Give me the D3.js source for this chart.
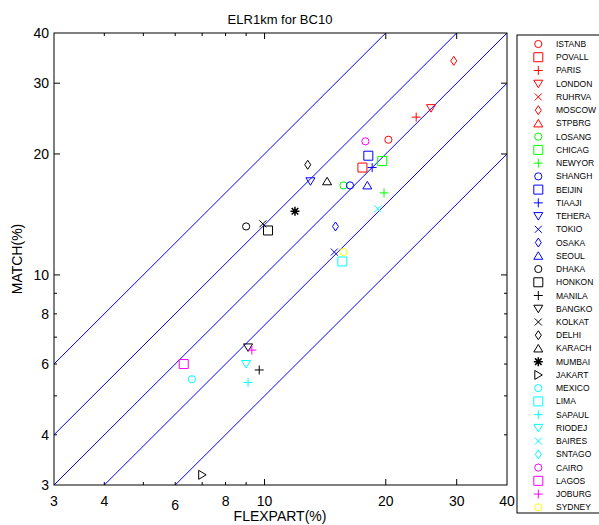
<!DOCTYPE html>
<html><head><meta charset="utf-8">
<script src="https://cdn.jsdelivr.net/npm/d3@7"></script>
<style>body{margin:0;background:#fff;} svg{display:block;} text{font-family:"Liberation Sans",Arial,sans-serif;}</style>
</head><body><svg id="c" width="599" height="525"></svg>
<script>
const cities = ["ISTANB","POVALL","PARIS","LONDON","RUHRVA","MOSCOW","STPBRG","LOSANG","CHICAG","NEWYOR","SHANGH","BEIJIN","TIAAJI","TEHERA","TOKIO","OSAKA","SEOUL","DHAKA","HONKON","MANILA","BANGKO","KOLKAT","DELHI","KARACH","MUMBAI","JAKART","MEXICO","LIMA","SAPAUL","RIODEJ","BAIRES","SNTAGO","CAIRO","LAGOS","JOBURG","SYDNEY"];
const colors = ["#ff0000","#ff0000","#ff0000","#ff0000","#ff0000","#ff0000","#ff0000","#00ff00","#00ff00","#00ff00","#0000ff","#0000ff","#0000ff","#0000ff","#0000ff","#0000ff","#0000ff","#000000","#000000","#000000","#000000","#000000","#000000","#000000","#000000","#000000","#00ffff","#00ffff","#00ffff","#00ffff","#00ffff","#00ffff","#ff00ff","#ff00ff","#ff00ff","#ffff00"];
const shapes = ["circle","square","plus","tridown","cross","diamond","triup","circle","square","plus","circle","square","plus","tridown","cross","diamond","triup","circle","square","plus","tridown","cross","diamond","triup","star","triright","circle","square","plus","tridown","cross","diamond","circle","square","plus","circle"];
const flexpart = [20.3,17.5,23.8,25.9,null,29.5,null,15.7,19.6,19.8,16.3,18.1,18.5,13.0,14.9,15.0,18.0,9.0,10.2,9.7,9.1,9.9,12.8,14.3,11.9,7.0,6.6,15.6,9.1,9.0,19.1,null,17.8,6.3,9.3,15.7];
const match    = [21.7,18.5,24.7,26.0,null,34.1,null,16.7,19.2,16.0,16.7,19.8,18.5,17.1,11.4,13.2,16.7,13.2,12.9,5.8,6.6,13.4,18.8,17.1,14.4,3.18,5.5,10.8,5.4,6.0,14.6,null,21.5,6.0,6.5,11.4];
const ratioLines = [2, 4/3, 1, 0.75, 0.5];
const tickValues = [3,4,5,6,7,8,9,10,20,30,40];
const tickLabels = ["3","4","","6","","8","","10","20","30","40"];
const majorTicks = [10,20,30];

const svg = d3.select("#c");
const L=54, R=507, T=33, B=485;
const x = d3.scaleLog().domain([3,40]).range([L,R]);
const y = d3.scaleLog().domain([3,40]).range([B,T]);

svg.append("text").attr("x",280).attr("y",24).attr("text-anchor","middle").attr("font-size",13).text("ELR1km for BC10");

svg.append("defs").append("clipPath").attr("id","clp").append("rect").attr("x",L).attr("y",T).attr("width",R-L).attr("height",B-T);

// ratio lines
svg.append("g").attr("clip-path","url(#clp)").selectAll("line").data(ratioLines).join("line")
 .attr("x1",d=>x(3)).attr("y1",d=>y(3*d)).attr("x2",d=>x(40)).attr("y2",d=>y(40*d))
 .attr("stroke","#0000ff").attr("stroke-width",1);

// frame
svg.append("rect").attr("x",L).attr("y",T).attr("width",R-L).attr("height",B-T).attr("fill","none").attr("stroke","#000").attr("stroke-width",1);

const tl = v => majorTicks.includes(v) ? 6 : 3;
const inner = tickValues.filter(v=>v>3&&v<40);
const tg = svg.append("g").attr("stroke","#000").attr("stroke-width",1);
inner.forEach(v=>{
  tg.append("line").attr("x1",x(v)).attr("x2",x(v)).attr("y1",B).attr("y2",B-tl(v));
  tg.append("line").attr("x1",x(v)).attr("x2",x(v)).attr("y1",T).attr("y2",T+tl(v));
  tg.append("line").attr("y1",y(v)).attr("y2",y(v)).attr("x1",L).attr("x2",L+tl(v));
  tg.append("line").attr("y1",y(v)).attr("y2",y(v)).attr("x1",R).attr("x2",R-tl(v));
});
tickValues.forEach((v,i)=>{
  if(!tickLabels[i]) return;
  svg.append("text").attr("x",x(v)).attr("y",B+21+(v===6?4:0)).attr("text-anchor","middle").attr("font-size",14).text(tickLabels[i]);
  svg.append("text").attr("x",L-5).attr("y",y(v)+5).attr("text-anchor","end").attr("font-size",14).text(tickLabels[i]);
});
svg.append("text").attr("x",280).attr("y",521).attr("text-anchor","middle").attr("font-size",14).text("FLEXPART(%)");
svg.append("text").attr("transform","translate(22,259) rotate(-90)").attr("text-anchor","middle").attr("font-size",14).text("MATCH(%)");

function markerPath(s){
  switch(s){
    case "circle": return null;
    case "square": return "M-4.5,-4.5H4.5V4.5H-4.5Z";
    case "plus": return "M-4.5,0H4.5M0,-4.5V4.5";
    case "cross": return "M-3.5,-3.5L3.5,3.5M-3.5,3.5L3.5,-3.5";
    case "diamond": return "M0,-4.5L3,0L0,4.5L-3,0Z";
    case "triup": return "M0,-4L4.5,3.5H-4.5Z";
    case "tridown": return "M0,4L4.5,-3.5H-4.5Z";
    case "triright": return "M4,0L-3.5,-4.5V4.5Z";
    case "star": return "M-4.5,0H4.5M0,-4.5V4.5M-3.3,-3.3L3.3,3.3M-3.3,3.3L3.3,-3.3";
  }
}
function drawMarker(g,s,c){
  if(s==="circle") g.append("circle").attr("r",3.6).attr("fill","none").attr("stroke",c).attr("stroke-width",1);
  else g.append("path").attr("d",markerPath(s)).attr("fill","none").attr("stroke",c).attr("stroke-width",s==="star"?1.5:1);
}
const pts = cities.map((c,i)=>({i,c})).filter(d=>flexpart[d.i]!=null&&match[d.i]!=null);
pts.forEach(d=>{
  const g = svg.append("g").attr("transform",`translate(${x(flexpart[d.i])},${y(match[d.i])})`);
  drawMarker(g,shapes[d.i],colors[d.i]);
});

// legend
svg.append("rect").attr("x",517).attr("y",35).attr("width",100).attr("height",478).attr("fill","#fff").attr("stroke","#000").attr("stroke-width",1);
const ly = d3.scaleLinear().domain([0,cities.length-1]).range([44,507.3]);
cities.forEach((c,i)=>{
  const g = svg.append("g").attr("transform",`translate(538.3,${ly(i)})`);
  drawMarker(g,shapes[i],colors[i]);
  svg.append("text").attr("x",556).attr("y",ly(i)+3).attr("font-size",8.5).text(c);
});
</script></body></html>
